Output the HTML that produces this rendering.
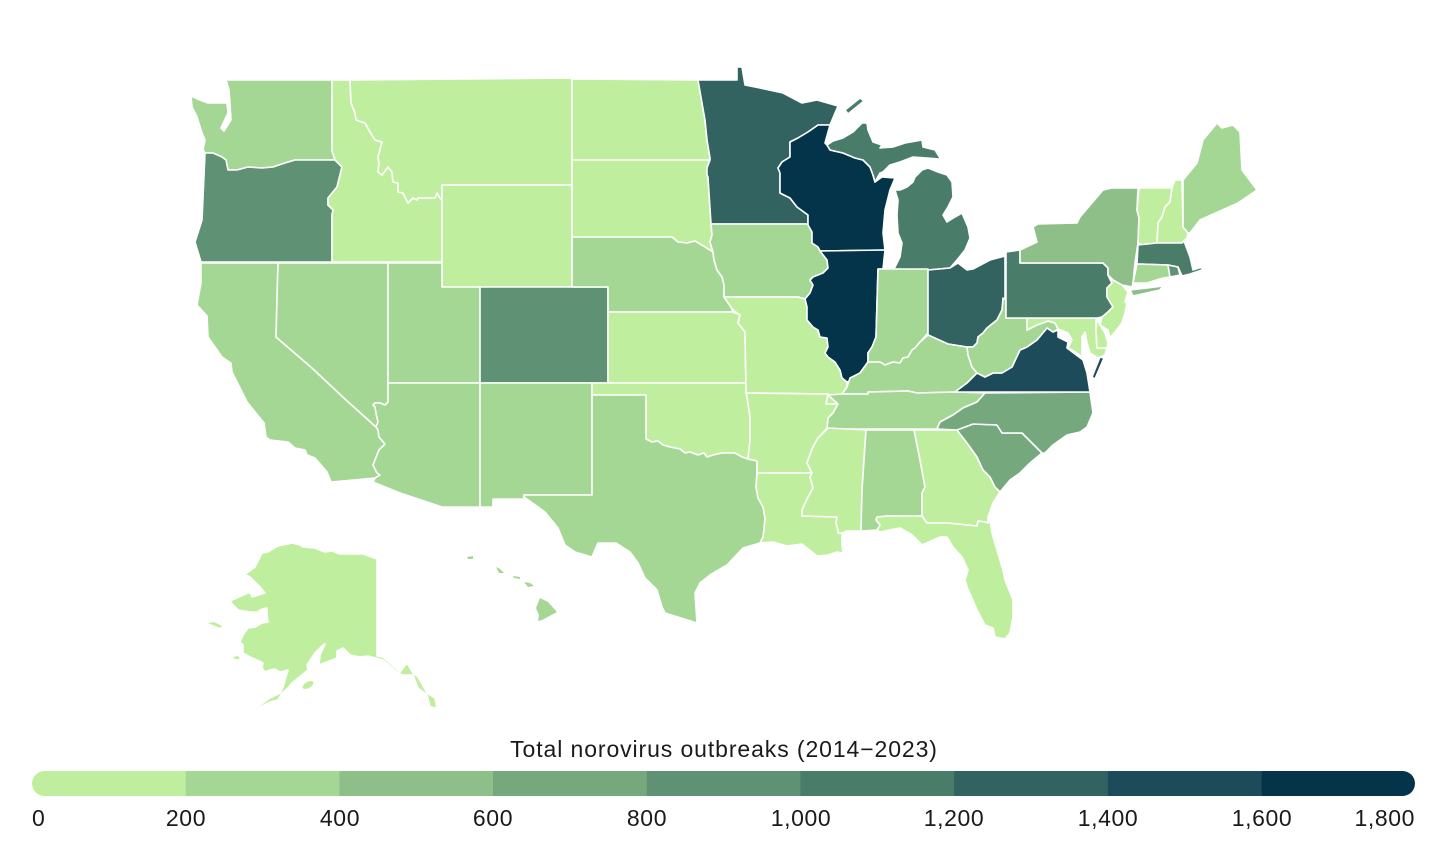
<!DOCTYPE html>
<html>
<head>
<meta charset="utf-8">
<style>
  html,body{margin:0;padding:0;background:#fff;}
  svg{display:block;}
  .st{stroke:#fff;stroke-width:1.6;stroke-linejoin:round;}
  text{font-family:"Liberation Sans",sans-serif;fill:#1a1a1a;}
</style>
</head>
<body>
<svg width="1450" height="850" viewBox="0 0 1450 850" xmlns="http://www.w3.org/2000/svg">
<defs>
  <clipPath id="barclip"><rect x="32" y="771" width="1383" height="25" rx="12.5" ry="12.5"/></clipPath>
</defs>
<g class="st">
<!-- WA -->
<polygon fill="#a5d794" points="226,80 332,80 332,151 335,160 295,160 285,163 273,167 262,168 248,167 237,170 228,170 226,160 222,157 213,153 205,153 203,150 205,140 202,133 197,117 192,107 191,96 200,100 208,103 227,103 228,113 221,128 224,131 231,120 230,104 229,90"/>
<!-- OR -->
<polygon fill="#5f9174" points="205,153 213,153 222,157 226,160 228,170 237,170 248,167 262,168 273,167 285,163 295,160 335,160 342,167 337,187 328,198 328,205 333,210 332,215 332,262 201,262 195,242 202,220"/>
<!-- CA -->
<polygon fill="#a5d794" points="201,263 278,263 276,337 312,368 345,399 376,427 378,430 379,437 385,444 379,450 375,460 373,465 377,473 380,475 375,478 331,482 327,472 315,458 307,455 305,450 295,448 288,442 270,440 266,437 264,423 247,402 232,372 231,363 222,357 208,337 207,316 197,305 201,283"/>
<!-- NV -->
<polygon fill="#a5d794" points="278,263 388,263 388,402 385,405 380,403 375,403 373,405 375,407 376,413 378,422 376,427 345,399 312,368 276,337"/>
<!-- ID -->
<polygon fill="#c0ee9f" points="332,80 350,80 351,103 355,113 356,120 365,123 370,132 375,140 382,142 378,157 379,163 378,172 382,175 388,167 392,172 393,182 398,183 398,192 403,193 408,203 413,198 417,200 418,198 435,198 437,193 440,198 442,200 442,262 332,262 332,215 333,210 328,205 328,198 337,187 342,167 335,160 332,151"/>
<!-- MT -->
<polygon fill="#c0ee9f" points="350,80 572,78 572,185 442,185 442,200 440,198 437,193 435,198 418,198 417,200 413,198 408,203 403,193 398,192 398,183 393,182 392,172 388,167 382,175 378,172 379,163 378,157 382,142 375,140 370,132 365,123 356,120 355,113 351,103"/>
<!-- WY -->
<polygon fill="#c0ee9f" points="442,185 572,185 572,287 442,287"/>
<!-- UT -->
<polygon fill="#a5d794" points="388,263 442,263 442,287 480,287 480,383 388,383"/>
<!-- CO -->
<polygon fill="#5f9174" points="480,287 608,287 608,383 480,383"/>
<!-- AZ -->
<polygon fill="#a5d794" points="388,383 480,383 480,507 442,507 400,493 373,482 375,478 380,475 377,473 373,465 375,460 379,450 385,444 379,437 378,430 376,427 378,422 376,413 375,407 373,405 375,403 380,403 385,405 388,402"/>
<!-- NM -->
<polygon fill="#a5d794" points="480,383 592,383 592,495 524,495 524,499 493,499 493,507 480,507"/>
<!-- ND -->
<polygon fill="#c0ee9f" points="572,79 698,80 702,103 705,120 707,140 710,158 710,160 572,160"/>
<!-- SD -->
<polygon fill="#c0ee9f" points="572,160 710,160 707,168 707,175 708,177 711,224 712,235 710,242 713,252 705,247 695,241 687,243 678,242 672,237 572,237"/>
<!-- NE -->
<polygon fill="#a5d794" points="572,237 672,237 678,242 687,243 695,241 705,247 713,252 714,260 717,270 722,277 724,285 724,297 730,305 733,312 608,312 608,287 572,287"/>
<!-- KS -->
<polygon fill="#c0ee9f" points="608,312 733,312 740,315 738,323 745,332 746,383 608,383"/>
<!-- OK -->
<polygon fill="#c0ee9f" points="592,383 746,383 747,397 750,417 750,440 748,459 742,457 735,453 722,453 713,455 707,457 704,453 698,455 690,452 685,453 680,449 670,447 663,445 658,441 652,442 646,439 646,395 592,395"/>
<!-- TX -->
<polygon fill="#a5d794" points="592,395 646,395 646,439 652,442 658,441 663,445 670,447 680,449 685,453 690,452 698,455 704,453 707,457 713,455 722,453 735,453 742,457 748,459 757,461 757,473 756,487 758,498 763,507 765,518 764,530 763,537 760,543 743,548 727,565 710,575 700,583 695,593 697,623 665,613 662,607 657,590 645,578 638,563 630,552 616,543 598,543 592,557 575,552 565,545 558,528 545,512 524,497 524,495 592,495"/>
<!-- MN -->
<polygon fill="#326360" points="698,80 737,80 737,67 742,67 745,85 760,88 783,93 802,103 817,100 838,106 830,125 818,125 808,132 798,138 790,142 790,157 782,162 778,168 780,173 780,193 790,198 797,207 808,215 808,224 711,224 708,177 707,175 707,168 710,160 710,158 707,140 705,120 702,103"/>
<!-- IA -->
<polygon fill="#a5d794" points="711,224 808,224 812,232 812,243 818,247 820,251 827,260 828,268 823,273 813,277 810,280 813,285 810,293 805,299 798,297 724,297 724,285 722,277 717,270 714,260 713,252 710,242 712,235"/>
<!-- MO -->
<polygon fill="#c0ee9f" points="724,297 798,297 805,299 807,307 807,320 813,327 818,330 820,337 827,338 828,347 825,353 828,357 835,362 840,370 842,378 847,382 847,388 843,395 840,404 838,404 826,404 828,394 746,393 745,332 738,323 740,315 733,310"/>
<!-- AR -->
<polygon fill="#c0ee9f" points="746,393 828,394 826,404 838,404 833,413 828,418 828,427 818,438 813,447 809,457 807,463 812,473 757,473 757,461 748,459 750,440 750,417 747,397"/>
<!-- LA -->
<polygon fill="#c0ee9f" points="757,473 812,473 810,477 813,488 808,497 802,510 802,516 837,517 836,523 838,530 838,533 842,533 842,545 843,553 837,552 828,555 817,556 802,544 787,546 773,542 760,543 763,537 764,530 765,518 763,507 758,498 756,487"/>
<!-- WI -->
<polygon fill="#03344a" points="790,142 798,138 808,132 818,125 830,125 825,143 827,145 830,150 843,153 855,158 863,160 870,167 873,175 875,182 882,177 895,178 890,190 885,210 883,233 885,250 820,251 818,247 812,243 812,232 808,225 808,215 797,207 790,198 780,193 780,173 778,168 782,162 790,157"/>
<!-- IL -->
<polygon fill="#03344a" points="820,251 885,250 883,269 878,269 876,337 872,347 868,353 868,362 860,373 853,380 847,382 842,378 840,370 835,362 828,357 825,353 828,347 827,338 820,337 818,330 813,327 807,320 807,307 805,299 810,293 813,285 810,280 813,277 823,273 828,268 827,260"/>
<!-- MI UP -->
<polygon fill="#4a7c6a" points="827,145 833,141 843,138 853,132 862,123 867,123 868,130 873,142 882,145 880,148 893,147 905,143 922,140 923,147 935,150 940,158 948,159 940,159 927,158 913,157 900,162 890,165 883,172 880,173 875,182 873,175 870,167 863,160 855,158 843,153 830,150"/>
<!-- Isle Royale -->
<polygon fill="#4a7c6a" points="845,110 860,98 864,101 848,114"/>
<!-- MI LP -->
<polygon fill="#4a7c6a" points="893,269 895,267 900,257 902,243 898,233 897,215 898,200 895,190 900,190 907,187 913,182 915,177 922,170 928,168 938,172 947,175 952,182 953,197 948,207 943,215 947,222 955,217 962,213 968,227 970,238 965,250 957,260 950,268 928,270"/>
<!-- IN -->
<polygon fill="#a5d794" points="878,269 928,269 928,333 920,342 915,348 912,350 908,357 903,358 900,363 893,362 885,365 880,362 868,362 868,353 872,347 876,337"/>
<!-- OH -->
<polygon fill="#326360" points="928,270 950,268 958,263 967,270 973,269 990,260 1005,256 1005,298 1002,310 997,320 987,328 983,333 978,337 977,343 973,347 967,347 948,344 928,335"/>
<!-- KY -->
<polygon fill="#a5d794" points="967,347 948,344 928,335 920,342 915,348 912,350 908,357 903,358 900,363 893,362 885,365 880,362 868,362 860,373 850,378 847,387 842,394 868,394 868,392 908,391 917,393 955,392 967,383 977,373 972,367 968,355"/>
<!-- TN -->
<polygon fill="#a5d794" points="828,395 842,394 868,394 868,392 908,391 917,393 955,392 985,393 977,402 963,408 953,415 940,422 937,429 827,429 828,418 833,413 838,404"/>
<!-- MS -->
<polygon fill="#c0ee9f" points="828,428 866,430 862,490 861,531 847,531 842,533 838,533 838,530 836,523 837,517 802,516 802,510 808,497 813,488 810,477 812,473 807,463 809,457 813,447 818,438"/>
<!-- AL -->
<polygon fill="#a5d794" points="866,430 914,430 920,460 925,487 922,493 922,516 887,516 877,517 876,520 880,525 877,530 861,531 862,490"/>
<!-- GA -->
<polygon fill="#c0ee9f" points="914,430 957,430 967,443 977,457 983,470 990,477 995,487 1000,492 993,503 988,517 988,523 985,522 978,521 977,526 948,523 927,523 922,516 922,493 925,487 920,460"/>
<!-- FL -->
<polygon fill="#c0ee9f" points="877,517 887,516 922,516 927,523 948,523 977,526 978,521 985,522 988,523 990,520 992,533 997,550 1003,570 1005,580 1013,600 1013,617 1010,633 1005,639 995,637 993,628 985,625 977,610 967,587 965,580 968,570 962,557 953,547 947,537 940,537 922,545 912,535 900,528 880,532 877,530 880,525 876,520"/>
<!-- SC -->
<polygon fill="#76a87d" points="957,430 973,424 997,425 1002,433 1022,433 1042,453 1030,463 1020,473 1010,480 1000,492 995,487 990,477 983,470 977,457 967,443"/>
<!-- NC -->
<polygon fill="#76a87d" points="985,393 1090,392 1093,413 1087,427 1080,432 1067,435 1053,445 1045,453 1042,453 1022,433 1002,433 997,425 973,424 957,430 937,429 940,422 953,415 963,408 977,402"/>
<!-- VA -->
<polygon fill="#1d4b59" points="955,392 967,383 977,373 985,377 993,373 1002,373 1012,367 1020,350 1027,347 1037,340 1047,328 1053,332 1058,330 1058,337 1068,342 1067,348 1083,360 1087,373 1090,392"/>
<polygon fill="#1d4b59" points="1100,357 1104,358 1095,379 1092,377"/>
<!-- WV -->
<polygon fill="#a5d794" points="1003,298 1006,300 1006,318 1027,318 1027,330 1037,325 1048,321 1055,323 1058,329 1053,332 1047,328 1037,340 1027,347 1020,350 1012,367 1002,373 993,373 985,377 977,373 972,367 968,355 967,347 973,347 977,343 978,337 983,333 987,328 997,320 1002,310"/>
<!-- MD -->
<polygon fill="#c0ee9f" points="1027,318 1096,318 1096,330 1097,348 1107,348 1105,355 1098,358 1090,353 1087,343 1085,332 1082,337 1082,357 1077,353 1068,348 1072,340 1068,333 1058,329 1055,323 1048,321 1037,325 1027,330"/>
<!-- DE -->
<polygon fill="#c0ee9f" points="1097,318 1100,325 1105,333 1108,343 1107,348 1097,348 1096,330"/>
<!-- PA -->
<polygon fill="#4a7c6a" points="1006,252 1020,250 1020,263 1103,263 1108,268 1108,275 1112,283 1107,288 1107,297 1113,307 1108,312 1102,317 1097,318 1006,318"/>
<!-- NJ -->
<polygon fill="#c0ee9f" points="1108,275 1113,280 1122,285 1128,292 1125,302 1127,303 1125,313 1122,323 1115,332 1110,338 1108,330 1100,325 1102,317 1108,312 1113,307 1107,297 1107,288 1112,283"/>
<!-- NY -->
<polygon fill="#8fbf88" points="1020,250 1037,242 1033,227 1038,224 1077,223 1080,217 1103,190 1112,188 1138,188 1137,210 1139,218 1138,243 1135,263 1133,283 1132,287 1122,285 1113,280 1108,275 1108,268 1103,263 1020,263"/>
<polygon fill="#8fbf88" points="1130,290 1147,288 1163,286 1160,290 1133,296"/>
<!-- VT -->
<polygon fill="#c0ee9f" points="1139,188 1172,188 1170,202 1165,207 1162,217 1158,223 1157,243 1142,245 1138,243 1139,218 1137,210"/>
<!-- NH -->
<polygon fill="#c0ee9f" points="1172,188 1175,180 1182,180 1183,227 1188,233 1187,238 1182,243 1157,243 1158,223 1162,217 1165,207 1170,202"/>
<!-- ME -->
<polygon fill="#a5d794" points="1183,180 1197,163 1203,140 1217,123 1222,128 1233,125 1240,132 1242,170 1257,190 1238,203 1200,220 1190,233 1188,233 1183,227"/>
<!-- MA -->
<polygon fill="#4a7c6a" points="1138,245 1157,243 1182,243 1184,241 1190,257 1193,270 1202,267 1201,262 1203,263 1202,270 1190,274 1182,276 1178,267 1168,265 1137,264"/>
<!-- CT -->
<polygon fill="#a5d794" points="1137,264 1168,265 1170,277 1163,278 1147,283 1133,283"/>
<!-- RI -->
<polygon fill="#5f9174" points="1168,265 1178,267 1180,275 1170,277"/>
<!-- AK -->
<polygon fill="#c0ee9f" points="237,568 242,573 247,573 255,567 262,553 268,552 278,546 292,543 300,545 303,547 315,548 325,552 332,551 340,554 353,554 363,554 377,559 377,656 383,657 400,672 407,663 413,673 418,677 427,693 435,698 437,708 430,707 427,695 418,688 413,675 402,675 397,672 383,660 368,656 360,657 350,655 343,648 337,651 337,658 327,662 319,665 320,655 325,644 323,645 315,653 307,665 308,670 292,683 288,688 282,693 278,700 270,702 260,707 247,713 260,705 270,698 280,693 283,687 288,670 280,672 275,669 270,670 265,672 262,668 263,663 257,660 252,658 243,653 243,645 240,642 243,635 248,628 255,627 262,623 268,622 267,615 267,608 262,609 257,612 250,612 238,610 233,605 230,601 250,592 252,597 265,593 260,587 250,577 242,573"/>
<ellipse cx="308" cy="685" rx="6" ry="3" fill="#c0ee9f" transform="rotate(-30 308 685)" stroke="none"/>
<polygon fill="#c0ee9f" stroke="none" points="208,623 214,622 222,626 220,628"/>
<polygon fill="#c0ee9f" stroke="none" points="233,657 238,656 240,659 235,659"/>
<!-- HI -->
<polygon fill="#a5d794" stroke="none" points="467,557 473,556 473,559 468,559"/>
<polygon fill="#a5d794" stroke="none" points="496,567 500,569 504,573 499,573"/>
<polygon fill="#a5d794" stroke="none" points="513,576 520,577 520,579 514,578"/>
<polygon fill="#a5d794" stroke="none" points="524,582 530,583 534,586 528,587"/>
<polygon fill="#a5d794" stroke="none" points="540,598 548,602 557,612 542,620 538,621 539,615 536,608"/>
</g>

<!-- Legend -->
<text x="724" y="757" font-size="23" letter-spacing="0.9" text-anchor="middle">Total norovirus outbreaks (2014−2023)</text>
<g clip-path="url(#barclip)">
  <rect x="32" y="771" width="154" height="25" fill="#c0ee9f"/>
  <rect x="185.7" y="771" width="154" height="25" fill="#a5d794"/>
  <rect x="339.4" y="771" width="154" height="25" fill="#8fbf88"/>
  <rect x="493" y="771" width="154" height="25" fill="#76a87d"/>
  <rect x="646.8" y="771" width="154" height="25" fill="#5f9174"/>
  <rect x="800.5" y="771" width="154" height="25" fill="#4a7c6a"/>
  <rect x="954.2" y="771" width="154" height="25" fill="#326360"/>
  <rect x="1107.9" y="771" width="154" height="25" fill="#1d4b59"/>
  <rect x="1261.6" y="771" width="154" height="25" fill="#03344a"/>
</g>
<g font-size="23" letter-spacing="0.6">
  <text x="32" y="826">0</text>
  <text x="186" y="826" text-anchor="middle">200</text>
  <text x="340" y="826" text-anchor="middle">400</text>
  <text x="493" y="826" text-anchor="middle">600</text>
  <text x="647" y="826" text-anchor="middle">800</text>
  <text x="801" y="826" text-anchor="middle">1,000</text>
  <text x="954" y="826" text-anchor="middle">1,200</text>
  <text x="1108" y="826" text-anchor="middle">1,400</text>
  <text x="1262" y="826" text-anchor="middle">1,600</text>
  <text x="1415" y="826" text-anchor="end">1,800</text>
</g>
</svg>
</body>
</html>
